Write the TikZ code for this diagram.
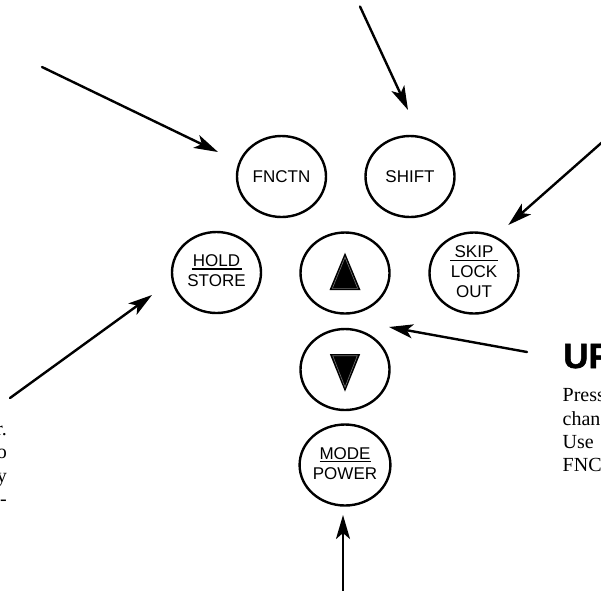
\documentclass[tikz,border=0pt]{standalone}
\usepackage{fontspec}
\setmainfont{Liberation Serif}
\newfontfamily\keyfont{Liberation Sans}
\newfontfamily\heavyfont{Liberation Sans}[BoldFeatures={FakeBold=1.5}]
\usetikzlibrary{shapes.geometric,arrows.meta}
\newcommand\keytwo[3]{\vbox{\offinterlineskip\halign{\hfil##\hfil\cr
  \vrule height12.3pt depth0pt width0pt #1\cr
  \noalign{\kern1.0pt}
  \vrule height1.7pt depth0pt width#2\cr
  \noalign{\kern4.6pt}
  \vrule height12.3pt depth0pt width0pt #3\cr
  \noalign{\kern3.4pt}}}}
\newcommand\keythree[4]{\vbox{\offinterlineskip\halign{\hfil##\hfil\cr
  \vrule height12.3pt depth0pt width0pt #1\cr
  \noalign{\kern2.0pt}
  \vrule height1.7pt depth0pt width#2\cr
  \noalign{\kern3.7pt}
  \vrule height12.3pt depth0pt width0pt #3\cr
  \noalign{\kern7.7pt}
  \vrule height12.3pt depth0pt width0pt #4\cr
  \noalign{\kern3.2pt}}}}
\tikzset{
  key/.style={ellipse, draw, line width=2.4pt, minimum width=89pt, minimum height=81pt,
    inner sep=0pt, font=\keyfont\fontsize{17}{20}\selectfont},
  ptr/.style={line width=2.4pt, line cap=round, -{Stealth[length=24pt,width=14pt,inset=6pt]}},
  body/.style={font=\fontsize{20}{23.3}\selectfont, inner sep=0pt},
  head/.style={font=\heavyfont\bfseries\fontsize{35}{40}\selectfont, inner sep=0pt},
  tri/.style={fill=black},
  triedge/.style={draw=black!55, line width=0.6pt}
}
\begin{document}
\begin{tikzpicture}[x=1pt,y=-1pt]
\useasboundingbox (0,0) rectangle (601,590);
\clip (0,0) rectangle (601,590);

% keys
\node[key] (fnctn) at (281.5,176.5) {FNCTN};
\node[key] (shift) at (410,176.5) {SHIFT};
\node[key] (hold) at (216.5,272.5) {\keytwo{HOLD}{50pt}{STORE}};
\node[key] (up) at (345,273) {};
\node[key] (skip) at (474,273) {\keythree{SKIP}{48pt}{LOCK}{OUT}};
\node[key] (down) at (345,369.5) {};
\node[key] (mode) at (345,465) {\keytwo{MODE}{51pt}{POWER}};

% triangles
\fill[tri] ([shift={(0,-20.3)}]up.center) -- ([shift={(-15.5,17)}]up.center)
  -- ([shift={(15.5,17)}]up.center) -- cycle;
\draw[triedge] ([shift={(0,-15.8)}]up.center) -- ([shift={(-12.6,15.3)}]up.center)
  -- ([shift={(12.6,15.3)}]up.center) -- cycle;
\fill[tri] ([shift={(0,22.2)}]down.center) -- ([shift={(-15.2,-15.5)}]down.center)
  -- ([shift={(15.2,-15.5)}]down.center) -- cycle;
\draw[triedge] ([shift={(0,17.7)}]down.center) -- ([shift={(-12.3,-13.8)}]down.center)
  -- ([shift={(12.3,-13.8)}]down.center) -- cycle;

% arrow ends
\coordinate (fnS) at (42,67);    \coordinate (fnT) at (218,152);
\coordinate (shS) at (360,6.5);  \coordinate (shT) at (408,110);
\coordinate (skS) at (612,133.5);\coordinate (skT) at (508.3,225);
\coordinate (hoS) at (10,398);   \coordinate (hoT) at (152,295);
\coordinate (udS) at (527,352);  \coordinate (udT) at (389,327);
\coordinate (moS) at (343,596);  \coordinate (moT) at (343,515);

\draw[ptr] (fnS) -- (fnT);
\draw[ptr] (shS) -- (shT);
\draw[ptr] (skS) -- (skT);
\draw[ptr] (hoS) -- (hoT);
\draw[ptr] (udS) -- (udT);
\draw[ptr] (moS) -- (moT);

% right text (cut by the frame)
\node[head, anchor=base west] (uphead) at (563,368) {UP};
\node[body, anchor=base west] (r1) at (562.5,401.5) {Press};
\node[body, anchor=base west] (r2) at (562.5,425) {chan};
\node[body, anchor=base west] (r3) at (562.5,448) {Use};
\node[body, anchor=base west] (r4) at (562.5,471) {FNC};

% left text (cut by the frame)
\node[body, anchor=base east] (l1) at (7,435) {r.};
\node[body, anchor=base east] (l2) at (7,458.5) {o};
\node[body, anchor=base east] (l3) at (7,482) {y};
\node[body, anchor=base east] (l4) at (7,505.5) {-};
\end{tikzpicture}
\end{document}
